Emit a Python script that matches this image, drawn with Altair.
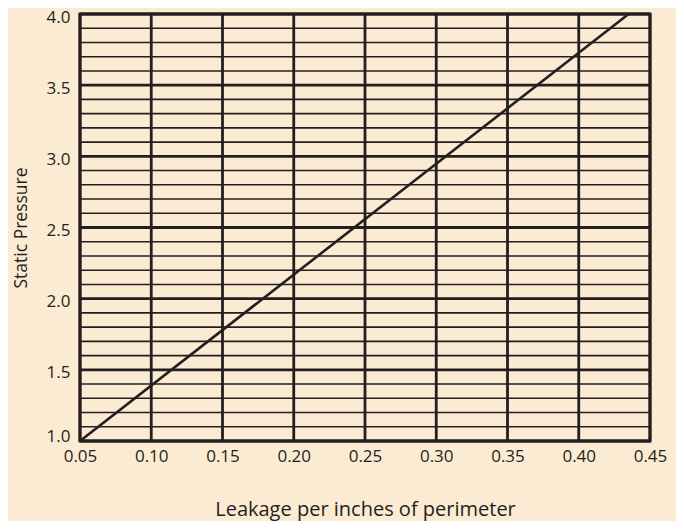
import altair as alt
import pandas as pd

x_ticks = [0.05, 0.10, 0.15, 0.20, 0.25, 0.30, 0.35, 0.40, 0.45]
y_major = [1.0, 1.5, 2.0, 2.5, 3.0, 3.5, 4.0]
y_minor = [1.1, 1.2, 1.3, 1.4, 1.6, 1.7, 1.8, 1.9, 2.1, 2.2, 2.3, 2.4,
           2.6, 2.7, 2.8, 2.9, 3.1, 3.2, 3.3, 3.4, 3.6, 3.7, 3.8, 3.9]
line_x = [0.05, 0.435]
line_y = [1.0, 4.0]

INK = "#231F20"
BG = "#FCEBD3"
FONT = "Open Sans"

xs = alt.Scale(domain=[0.05, 0.45], nice=False, zero=False)
ys = alt.Scale(domain=[1.0, 4.0], nice=False, zero=False)

x_axis = alt.Axis(values=x_ticks, format=".2f", grid=False, ticks=False, domain=False,
                  labelFlush=False, labelOverlap=False,
                  labelFont=FONT, labelFontSize=17, labelColor=INK, labelPadding=7,
                  title="Leakage per inches of perimeter", titleFont=FONT, titleFontSize=20,
                  titleColor=INK, titleFontWeight="normal", titlePadding=35)
y_axis = alt.Axis(values=y_major, format=".1f", grid=False, ticks=False, domain=False,
                  labelFlush=False, labelOverlap=False,
                  labelOffset={"condition": {"test": "datum.value <= 1", "value": -5}, "value": 3},
                  labelFont=FONT, labelFontSize=17, labelColor=INK, labelPadding=10,
                  title="Static Pressure", titleFont=FONT, titleFontSize=17.5,
                  titleColor=INK, titleFontWeight="normal", titlePadding=16)

minor = alt.Chart(pd.DataFrame({"y": y_minor})).mark_rule(color=INK, strokeWidth=1.6).encode(
    y=alt.Y("y:Q", scale=ys, axis=y_axis))
major = alt.Chart(pd.DataFrame({"y": y_major})).mark_rule(color=INK, strokeWidth=2.8).encode(
    y=alt.Y("y:Q", scale=ys))
vert = alt.Chart(pd.DataFrame({"x": x_ticks})).mark_rule(color=INK, strokeWidth=2.8).encode(
    x=alt.X("x:Q", scale=xs, axis=x_axis))
line = alt.Chart(pd.DataFrame({"x": line_x, "y": line_y})).mark_line(color=INK, strokeWidth=2.6).encode(
    x=alt.X("x:Q", scale=xs), y=alt.Y("y:Q", scale=ys))

chart = alt.layer(minor, major, vert, line).properties(
    width=570, height=427,
    autosize=alt.AutoSizeParams(type="none"),
    padding={"left": 72, "top": 6, "right": 26, "bottom": 80},
    background=BG,
).configure_view(stroke=INK, strokeWidth=3, fill=BG)

chart.save("out.html", embed_options={"renderer": "svg", "actions": False})
